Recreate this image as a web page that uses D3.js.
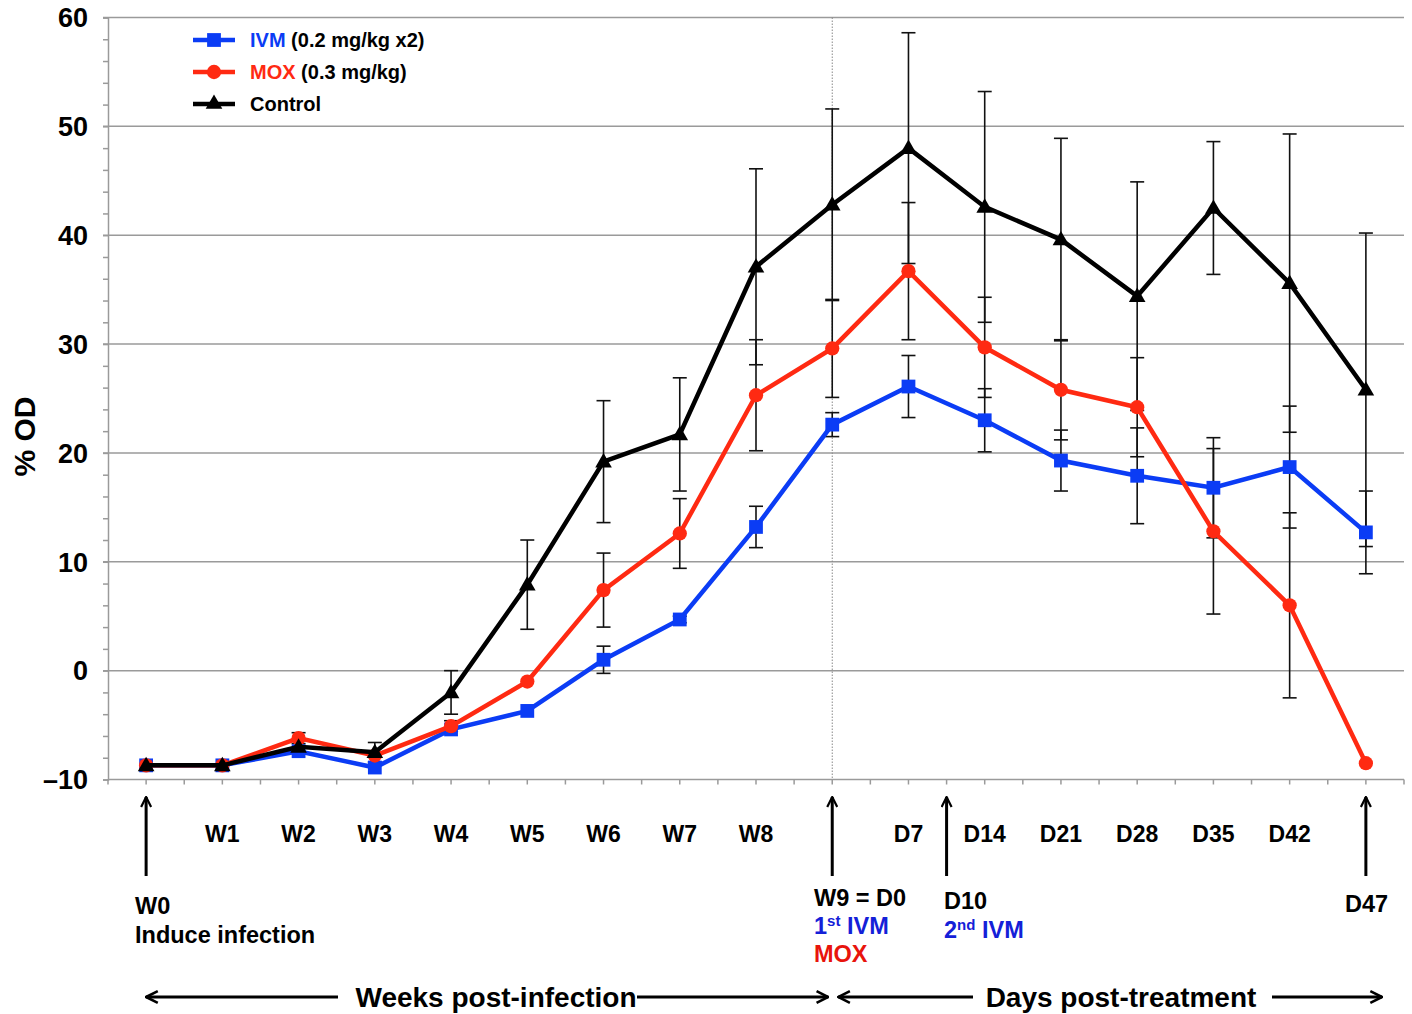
<!DOCTYPE html>
<html>
<head>
<meta charset="utf-8">
<script src="https://cdn.jsdelivr.net/npm/d3@7"></script>
<style>
  body { margin: 0; background: #fff; }
  text { font-family: "Liberation Sans", Arial, Helvetica, sans-serif; font-weight: bold; }
</style>
</head>
<body>
<div id="viz"></div>
<script>
// timepoints (weeks post-infection, then days post-treatment)
const categories = ["W0","W1","W2","W3","W4","W5","W6","W7","W8","W9","D7","D14","D21","D28","D35","D42","D47"];
const tickLabels = ["","W1","W2","W3","W4","W5","W6","W7","W8","","D7","D14","D21","D28","D35","D42",""];
const yTicks = [-10, 0, 10, 20, 30, 40, 50, 60];

const ivm     = [-8.7,-8.7,-7.4,-8.9,-5.4,-3.7, 1.0, 4.7,13.2,22.6,26.1,23.0,19.3,17.9,16.8,18.7,12.7];
const ivmErr  = [0,0,0,0,0,0,1.25,0.3,1.9,1.1,2.85,2.9,2.8,4.4,4.6,5.6,3.8];
const mox     = [-8.7,-8.7,-6.2,-7.8,-5.1,-1.0, 7.4,12.6,25.3,29.6,36.7,29.7,25.8,24.2,12.8, 6.0,-8.5];
const moxErr  = [0,0,0.5,0,0.5,0,3.4,3.2,5.1,4.5,6.3,4.6,4.6,4.55,7.6,8.5,0];
const ctrl    = [-8.7,-8.7,-7.0,-7.5,-2.0, 7.9,19.2,21.7,37.1,42.8,48.0,42.6,39.6,34.4,42.5,35.6,25.8];
const ctrlErr = [0,0,0,0.9,2.0,4.1,5.6,5.2,9.0,8.8,10.6,10.6,9.3,10.5,6.1,13.7,14.4];

const BLUE = "#0b3cf5", RED = "#ff2a12", BLACK = "#000";

const series = [
  { name: "IVM", extra: " (0.2 mg/kg x2)", values: ivm, err: ivmErr, color: BLUE, shape: d3.symbolSquare, size: 190 },
  { name: "MOX", extra: " (0.3 mg/kg)", values: mox, err: moxErr, color: RED, shape: d3.symbolCircle, size: 160 },
  { name: "Control", extra: "", values: ctrl, err: ctrlErr, color: BLACK, shape: d3.symbolTriangle, size: 120 }
];

const width = 1412, height = 1014;
const svg = d3.select("#viz").append("svg")
  .attr("width", width)
  .attr("height", height);

const x = d3.scalePoint().domain(categories).range([108, 1404]).padding(0.5);
const y = d3.scaleLinear().domain([-10, 60]).range([779.5, 17.5]);
const step = x.step();

// gridlines
svg.append("g")
  .selectAll("line")
  .data(yTicks.filter(t => t > -10))
  .enter().append("line")
  .attr("x1", 103).attr("x2", 1404)
  .attr("y1", d => y(d)).attr("y2", d => y(d))
  .attr("stroke", "#9a9a9a").attr("stroke-width", 1.5);

// y axis with minor ticks
const yAxis = svg.append("g").attr("transform", "translate(108,0)")
  .call(d3.axisLeft(y).tickValues(d3.range(-10, 61, 2)).tickSize(5).tickFormat(""));
yAxis.select(".domain").attr("stroke", "#9a9a9a").attr("stroke-width", 1.5);
yAxis.selectAll(".tick line").attr("stroke", "#9a9a9a").attr("stroke-width", 1.5);

svg.append("g")
  .selectAll("text")
  .data(yTicks)
  .enter().append("text")
  .attr("x", 88).attr("y", d => y(d))
  .attr("dy", "0.36em")
  .attr("text-anchor", "end")
  .style("font-size", "27px")
  .text(d => d < 0 ? "\u2013" + Math.abs(d) : d);

svg.append("text")
  .attr("transform", `translate(35,${y(21.5)}) rotate(-90)`)
  .attr("text-anchor", "middle")
  .style("font-size", "30px")
  .text("% OD");

// x axis: ticks every half step
const halfTicks = d3.range(0, categories.length * 2 + 1).map(i => 108 + i * step / 2);
svg.append("line")
  .attr("x1", 108).attr("x2", 1404).attr("y1", y(-10)).attr("y2", y(-10))
  .attr("stroke", "#9a9a9a").attr("stroke-width", 1.5);
svg.append("g")
  .selectAll("line")
  .data(halfTicks)
  .enter().append("line")
  .attr("x1", d => d).attr("x2", d => d)
  .attr("y1", y(-10)).attr("y2", y(-10) + 5)
  .attr("stroke", "#9a9a9a").attr("stroke-width", 1.5);

svg.append("g")
  .selectAll("text")
  .data(categories)
  .enter().append("text")
  .attr("x", d => x(d)).attr("y", 842)
  .attr("text-anchor", "middle")
  .style("font-size", "23px")
  .text((d, i) => tickLabels[i]);

// dotted line at treatment start
svg.append("line")
  .attr("x1", x("W9")).attr("x2", x("W9"))
  .attr("y1", y(60)).attr("y2", y(-10))
  .attr("stroke", "#888").attr("stroke-width", 1)
  .attr("stroke-dasharray", "1.5,1.5");

// error bars
series.forEach(s => {
  const g = svg.append("g");
  const pts = categories.map((c, i) => ({ c, v: s.values[i], e: s.err[i] })).filter(p => p.e > 0);
  g.selectAll(".bar").data(pts).enter().append("line")
    .attr("x1", d => x(d.c)).attr("x2", d => x(d.c))
    .attr("y1", d => y(d.v - d.e)).attr("y2", d => y(d.v + d.e))
    .attr("stroke", "#111").attr("stroke-width", 1.6);
  [-1, 1].forEach(sign => {
    g.selectAll(".cap" + sign).data(pts).enter().append("line")
      .attr("x1", d => x(d.c) - 7).attr("x2", d => x(d.c) + 7)
      .attr("y1", d => y(d.v + sign * d.e)).attr("y2", d => y(d.v + sign * d.e))
      .attr("stroke", "#111").attr("stroke-width", 1.6);
  });
});

// lines and markers
const line = d3.line().x((d, i) => x(categories[i])).y(d => y(d));
series.forEach(s => {
  svg.append("path")
    .datum(s.values)
    .attr("d", line)
    .attr("fill", "none")
    .attr("stroke", s.color)
    .attr("stroke-width", 4.5)
    .attr("stroke-linejoin", "miter");
  svg.append("g")
    .selectAll("path")
    .data(s.values)
    .enter().append("path")
    .attr("transform", (d, i) => `translate(${x(categories[i])},${y(d) + (s.shape === d3.symbolTriangle ? 1 : 0)})`)
    .attr("d", d3.symbol().type(s.shape).size(s.size))
    .attr("fill", s.color);
});

// legend
series.forEach((s, i) => {
  const ly = 40 + i * 32;
  svg.append("line")
    .attr("x1", 193).attr("x2", 235).attr("y1", ly).attr("y2", ly)
    .attr("stroke", s.color).attr("stroke-width", 4.5);
  svg.append("path")
    .attr("transform", `translate(214,${ly})`)
    .attr("d", d3.symbol().type(s.shape).size(s.size))
    .attr("fill", s.color);
  const t = svg.append("text").attr("x", 250).attr("y", ly + 7).style("font-size", "20px");
  t.append("tspan").attr("fill", s.color === BLACK ? "#000" : s.color).text(s.name);
  t.append("tspan").attr("fill", "#000").text(s.extra);
});

// event arrows
const arrowX = [x("W0"), x("W9"), (x("D7") + x("D14")) / 2, x("D47")];
const defs = svg.append("defs");
defs.append("marker")
  .attr("id", "head")
  .attr("viewBox", "0 0 12 12")
  .attr("refX", 11).attr("refY", 6)
  .attr("markerWidth", 12).attr("markerHeight", 12)
  .attr("markerUnits", "userSpaceOnUse")
  .attr("orient", "auto")
  .append("path")
  .attr("d", "M1,1 L11,6 L1,11")
  .attr("fill", "none").attr("stroke", "#000").attr("stroke-width", 2.2);

svg.append("g")
  .selectAll("line")
  .data(arrowX)
  .enter().append("line")
  .attr("x1", d => d).attr("x2", d => d)
  .attr("y1", 876).attr("y2", 797)
  .attr("stroke", "#000").attr("stroke-width", 3)
  .attr("marker-end", "url(#head)");

const notes = [
  { x: 135, y: 914, text: "W0", color: "#000" },
  { x: 135, y: 943, text: "Induce infection", color: "#000" },
  { x: 814, y: 906, text: "W9 = D0", color: "#000" },
  { x: 944, y: 909, text: "D10", color: "#000" },
  { x: 1345, y: 912, text: "D47", color: "#000" },
  { x: 814, y: 962, text: "MOX", color: "#e8140c" }
];
svg.append("g")
  .selectAll("text")
  .data(notes)
  .enter().append("text")
  .attr("x", d => d.x).attr("y", d => d.y)
  .attr("fill", d => d.color)
  .style("font-size", "23.5px")
  .text(d => d.text);

[{ x: 814, y: 934, n: "1", sup: "st" }, { x: 944, y: 938, n: "2", sup: "nd" }].forEach(d => {
  const t = svg.append("text").attr("x", d.x).attr("y", d.y).attr("fill", "#1420d8").style("font-size", "23.5px");
  t.append("tspan").text(d.n);
  t.append("tspan").attr("dy", -8).style("font-size", "15px").text(d.sup);
  t.append("tspan").attr("dy", 8).text(" IVM");
});

// bottom period arrows
const periods = [
  { label: "Weeks post-infection", from: x("W0"), to: x("W9") - 4, cx: 496, gap: [338, 637] },
  { label: "Days post-treatment", from: x("W9") + 6, to: 1382, cx: 1121, gap: [973, 1272] }
];
defs.append("marker")
  .attr("id", "head2")
  .attr("viewBox", "0 0 12 12")
  .attr("refX", 11).attr("refY", 6)
  .attr("markerWidth", 14).attr("markerHeight", 14)
  .attr("markerUnits", "userSpaceOnUse")
  .attr("orient", "auto")
  .append("path")
  .attr("d", "M1,1 L11,6 L1,11")
  .attr("fill", "none").attr("stroke", "#000").attr("stroke-width", 2.2);

periods.forEach(p => {
  svg.append("line")
    .attr("x1", p.gap[0]).attr("x2", p.from).attr("y1", 997).attr("y2", 997)
    .attr("stroke", "#000").attr("stroke-width", 3).attr("marker-end", "url(#head2)");
  svg.append("line")
    .attr("x1", p.gap[1]).attr("x2", p.to).attr("y1", 997).attr("y2", 997)
    .attr("stroke", "#000").attr("stroke-width", 3).attr("marker-end", "url(#head2)");
  svg.append("text")
    .attr("x", p.cx).attr("y", 1007)
    .attr("text-anchor", "middle")
    .style("font-size", "28px")
    .text(p.label);
});
</script>
</body>
</html>
